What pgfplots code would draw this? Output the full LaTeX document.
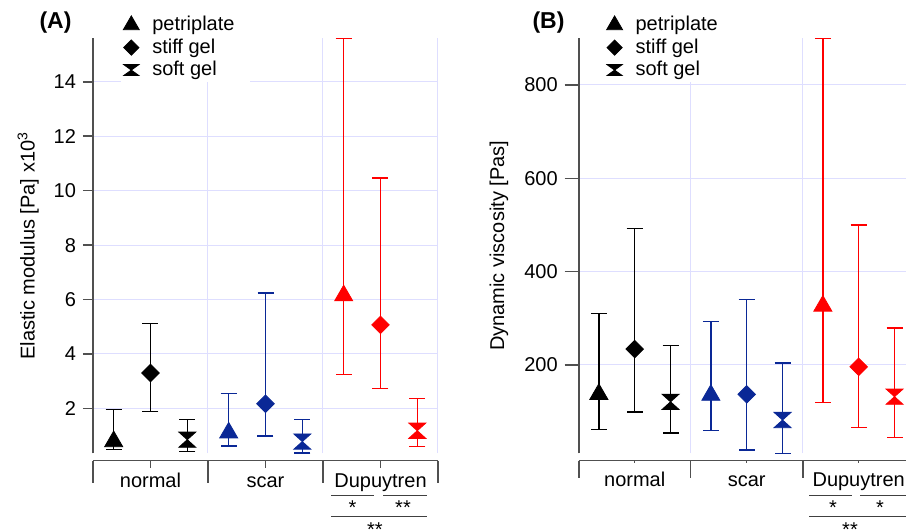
\documentclass[border=0pt]{standalone}
\usepackage{fontspec}
\setmainfont{Liberation Sans}
\usepackage{pgfplots}
\pgfplotsset{compat=1.18}
\definecolor{axgray}{RGB}{80,80,80}
\definecolor{gridc}{RGB}{222,222,255}
\definecolor{cblue}{RGB}{10,40,150}
\definecolor{cred}{RGB}{255,0,0}
\pgfdeclareplotmark{hourglass*}{%
  \pgfpathmoveto{\pgfqpoint{-\pgfplotmarksize}{0.9\pgfplotmarksize}}%
  \pgfpathlineto{\pgfqpoint{\pgfplotmarksize}{0.9\pgfplotmarksize}}%
  \pgfpathlineto{\pgfqpoint{-\pgfplotmarksize}{-0.9\pgfplotmarksize}}%
  \pgfpathlineto{\pgfqpoint{\pgfplotmarksize}{-0.9\pgfplotmarksize}}%
  \pgfpathclose
  \pgfusepathqfillstroke}
\newcommand{\tfont}{\fontsize{10}{12}\selectfont}
\pgfplotsset{
  panel/.style={
    scale only axis, height=207.5pt, anchor=south west,
    xmin=0, xmax=3, clip=false,
    axis y line*=left, axis x line*=bottom,
    x axis line style={draw=none},
    y axis line style={axgray, line width=0.8pt},
    xtick={0.5,1.5,2.5}, xticklabels={normal,scar,Dupuytren},
    xtick style={draw=none},
    minor xtick={1,2,3}, xminorgrids, ymajorgrids,
    grid style={gridc, line width=0.5pt},
    ytick style={axgray, line width=0.8pt},
    tick align=outside, major tick length=5pt,
    /pgf/number format/assume math mode=true,
    tick label style={font=\tfont},
    label style={font=\tfont},
    legend style={draw=none, fill=white, font=\tfont, anchor=north west, inner sep=1pt,
      row sep=1.75pt, nodes={inner ysep=0pt, inner xsep=6.5pt, text height=7.5pt, text depth=2pt}},
    legend cell align=left,
  },
  eb/.style={only marks, forget plot,
    error bars/y dir=both, error bars/y explicit, error bars/error mark=-,
    error bars/error bar style={line width=0.65pt},
    error bars/error mark options={line width=0.65pt, mark size=4pt, rotate=90}},
  tri/.style={mark=triangle*, mark size=5.2pt, mark options={yshift=-1.3pt}},
  dia/.style={mark=square*, mark size=3.1pt, mark options={rotate=45}},
  hg/.style={mark=hourglass*, mark size=4.25pt},
}
\begin{document}
\begin{tikzpicture}
% ---------------- Panel A ----------------
\begin{axis}[panel, at={(46.5pt,38.35pt)}, width=172.5pt,
  ymin=0.35, ymax=15.6, ytick={2,4,6,8,10,12,14},
  xticklabel style={anchor=base, yshift=-12.35pt},
  ylabel={Elastic modulus [Pa] x10\textsuperscript{3}},
  ylabel style={at={(axis description cs:-0.188,0.5)}, anchor=center},
  legend style={at={(axis description cs:0.081,1.0605)}}]
\addlegendimage{only marks, mark=triangle*, mark size=4.6pt, black}
\addlegendentry{petriplate}
\addlegendimage{only marks, mark=square*, mark size=2.7pt, mark options={rotate=45}, black}
\addlegendentry{stiff gel}
\addlegendimage{only marks, mark=hourglass*, mark size=3.8pt, mark options={yscale=0.8}, black}
\addlegendentry{soft gel}
% normal
\addplot[eb, tri, black] coordinates {(0.18,0.88) += (0,1.07) -= (0,0.40)};
\addplot[eb, dia, black] coordinates {(0.50,3.30) += (0,1.83) -= (0,1.41)};
\addplot[eb, hg, black]  coordinates {(0.82,0.85) += (0,0.73) -= (0,0.43)};
% scar
\addplot[eb, tri, cblue] coordinates {(1.18,1.20) += (0,1.36) -= (0,0.58)};
\addplot[eb, dia, cblue] coordinates {(1.50,2.17) += (0,4.07) -= (0,1.18)};
\addplot[eb, hg, cblue]  coordinates {(1.82,0.78) += (0,0.80) -= (0,0.42)};
% Dupuytren
\addplot[eb, tri, cred] coordinates {(2.18,6.24) += (0,9.36) -= (0,2.99)};
\addplot[eb, dia, cred] coordinates {(2.50,5.07) += (0,5.40) -= (0,2.35)};
\addplot[eb, hg, cred]  coordinates {(2.82,1.18) += (0,1.18) -= (0,0.58)};
% separate bottom category axis
\draw[axgray, line width=0.8pt] ([yshift=-3.7pt]rel axis cs:0,0) -- ([yshift=-3.7pt]rel axis cs:1,0);
\draw[axgray, line width=0.8pt] ([yshift=-3.7pt]rel axis cs:0,0) -- ++(0,-6.15pt);
\draw[axgray, line width=0.8pt] ([yshift=-3.7pt]rel axis cs:0.3333,0) -- ++(0,-6.15pt);
\draw[axgray, line width=0.8pt] ([yshift=-3.7pt]rel axis cs:0.6667,0) -- ++(0,-6.15pt);
\draw[axgray, line width=0.8pt] ([yshift=-3.7pt]rel axis cs:1,0) -- ++(0,-6.15pt);
\draw[axgray, line width=0.6pt] ([yshift=-3.7pt]rel axis cs:0.1667,0) -- ++(0,1.2pt);
\draw[axgray, line width=0.6pt] ([yshift=-3.7pt]rel axis cs:0.5,0) -- ++(0,1.2pt);
\draw[axgray, line width=0.6pt] ([yshift=-3.7pt]rel axis cs:0.8333,0) -- ++(0,1.2pt);
\end{axis}
% ---------------- Panel B ----------------
\begin{axis}[panel, at={(289.35pt,38.35pt)}, width=168pt,
  ymin=10.7, ymax=900, ytick={200,400,600,800}, major tick length=7pt,
  xticklabel style={anchor=base, yshift=-9.85pt},
  ylabel={Dynamic viscosity [Pas]},
  ylabel style={at={(axis description cs:-0.237,0.5)}, anchor=center},
  legend style={at={(axis description cs:0.076,1.0605)}}]
\addlegendimage{only marks, mark=triangle*, mark size=4.6pt, black}
\addlegendentry{petriplate}
\addlegendimage{only marks, mark=square*, mark size=2.7pt, mark options={rotate=45}, black}
\addlegendentry{stiff gel}
\addlegendimage{only marks, mark=hourglass*, mark size=3.8pt, mark options={yscale=0.8}, black}
\addlegendentry{soft gel}
% normal
\addplot[eb, tri, black] coordinates {(0.18,143) += (0,168) -= (0,82)};
\addplot[eb, dia, black] coordinates {(0.50,234) += (0,259) -= (0,135)};
\addplot[eb, hg, black]  coordinates {(0.82,121) += (0,120) -= (0,67)};
% scar
\addplot[eb, tri, cblue] coordinates {(1.18,141) += (0,152) -= (0,82)};
\addplot[eb, dia, cblue] coordinates {(1.50,137) += (0,204) -= (0,119)};
\addplot[eb, hg, cblue]  coordinates {(1.82,82) += (0,122) -= (0,71)};
% Dupuytren
\addplot[eb, tri, cred] coordinates {(2.18,332) += (0,568) -= (0,212)};
\addplot[eb, dia, cred] coordinates {(2.50,196) += (0,304) -= (0,130)};
\addplot[eb, hg, cred]  coordinates {(2.82,132) += (0,147) -= (0,87)};
\draw[axgray, line width=0.8pt] ([yshift=-3.7pt]rel axis cs:0,0) -- ([yshift=-3.7pt]rel axis cs:1,0);
\draw[axgray, line width=0.8pt] ([yshift=-3.7pt]rel axis cs:0,0) -- ++(0,-6.15pt);
\draw[axgray, line width=0.8pt] ([yshift=-3.7pt]rel axis cs:0.3333,0) -- ++(0,-6.15pt);
\draw[axgray, line width=0.8pt] ([yshift=-3.7pt]rel axis cs:0.6667,0) -- ++(0,-6.15pt);
\draw[axgray, line width=0.8pt] ([yshift=-3.7pt]rel axis cs:1,0) -- ++(0,-6.15pt);
\draw[axgray, line width=0.6pt] ([yshift=-3.7pt]rel axis cs:0.1667,0) -- ++(0,1.2pt);
\draw[axgray, line width=0.6pt] ([yshift=-3.7pt]rel axis cs:0.5,0) -- ++(0,1.2pt);
\draw[axgray, line width=0.6pt] ([yshift=-3.7pt]rel axis cs:0.8333,0) -- ++(0,1.2pt);
\end{axis}
% panel letters
\node[font=\fontsize{11.5}{13}\selectfont\bfseries] at (27.75pt,253.5pt) {(A)};
\node[font=\fontsize{11.5}{13}\selectfont\bfseries] at (274.25pt,253.5pt) {(B)};
% significance annotations A
\draw[black!75, line width=0.6pt] (165.5pt,17.15pt) -- (187pt,17.15pt);
\draw[black!75, line width=0.6pt] (191.5pt,17.15pt) -- (213.5pt,17.15pt);
\draw[black!75, line width=0.6pt] (165.5pt,6.65pt) -- (213.5pt,6.65pt);
\node[font=\tfont, anchor=base, inner sep=0pt] at (176.25pt,7.7pt) {*};
\node[font=\tfont, anchor=base, inner sep=0pt] at (201.5pt,7.7pt) {**};
\node[font=\tfont, anchor=base, inner sep=0pt] at (187.5pt,-3.3pt) {**};
% significance annotations B
\draw[black!75, line width=0.6pt] (404.5pt,17.15pt) -- (426pt,17.15pt);
\draw[black!75, line width=0.6pt] (430pt,17.15pt) -- (455pt,17.15pt);
\draw[black!75, line width=0.6pt] (404.5pt,6.65pt) -- (455pt,6.65pt);
\node[font=\tfont, anchor=base, inner sep=0pt] at (416.5pt,7.7pt) {*};
\node[font=\tfont, anchor=base, inner sep=0pt] at (440pt,7.7pt) {*};
\node[font=\tfont, anchor=base, inner sep=0pt] at (425pt,-3.3pt) {**};
\pgfresetboundingbox
\path[use as bounding box] (0pt,0pt) rectangle (453pt,265pt);
\end{tikzpicture}
\end{document}
